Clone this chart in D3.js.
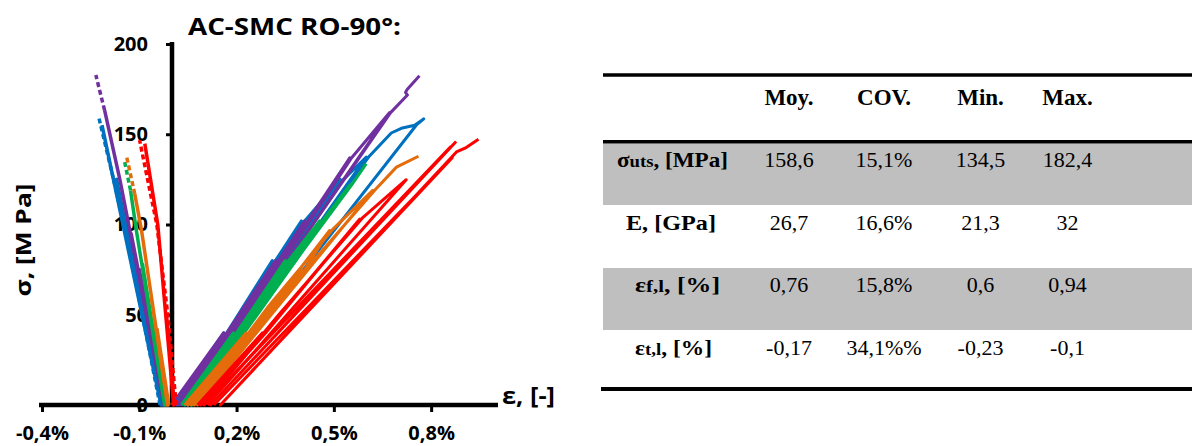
<!DOCTYPE html>
<html>
<head>
<meta charset="utf-8">
<script src="https://cdn.jsdelivr.net/npm/d3@7"></script>
<style>
body { margin: 0; background: #fff; }
svg { display: block; }
.axis text { font-family: "Open Sans", sans-serif; font-weight: 700; font-size: 20px; fill: #000; }
.tbl { font-family: "Liberation Serif", "Times New Roman", serif; font-size: 22px; fill: #000; }
</style>
</head>
<body>
<svg id="chart" width="1192" height="446"></svg>
<script>
////////////// Data (strain in %, stress in MPa)
var xTicks = [-0.4, -0.1, 0.2, 0.5, 0.8];
var yTicks = [0, 50, 100, 150, 200];

// longitudinal curves (loading / unloading cycles)
var blueLong = [[0.01,0],[0.16,40],[0.02,0],[0.17,40],[0.31,80],[0.03,0],[0.18,40],[0.32,80],[0.40,102],[0.04,0],[0.20,45],[0.41,102],[0.52,125],[0.05,0],[0.28,60],[0.53,125],[0.60,137.4],[0.06,0],[0.33,70],[0.61,138],[0.677,150.7],[0.708,153.3],[0.749,155],[0.777,158.5],[0.754,155],[0.08,0]];
var purpleLong = [[0.00,0],[0.16,40],[0.015,0],[0.17,40],[0.32,80],[0.025,0],[0.18,40],[0.33,80],[0.41,102],[0.035,0],[0.22,50],[0.42,102],[0.549,137],[0.045,0],[0.29,65],[0.555,137],[0.672,162],[0.05,0],[0.30,65],[0.675,162],[0.727,171.7],[0.721,173.2],[0.726,174.8],[0.764,182.4]];
var greenLong = [[0.03,0],[0.19,40],[0.04,0],[0.20,40],[0.35,80],[0.05,0],[0.21,40],[0.36,80],[0.456,102],[0.06,0],[0.27,55],[0.465,102],[0.55,122],[0.065,0],[0.30,60],[0.555,122],[0.60,133.7]];
var orangeLong = [[0.04,0],[0.23,40],[0.05,0],[0.24,40],[0.40,75],[0.06,0],[0.25,40],[0.41,75],[0.487,96.7],[0.07,0],[0.30,55],[0.495,97],[0.62,118.9],[0.08,0],[0.35,62],[0.626,119],[0.693,131.8],[0.761,137.8]];
var redLongA = [[0.13,0],[0.865,137],[0.15,0],[0.878,140.2],[0.908,142.6],[0.946,147.2]];
var redLongB = [[0.10,0],[0.86,143],[0.12,0],[0.877,146]];
var redLongC = [[0.08,0],[0.28,40],[0.09,0],[0.29,40],[0.58,103],[0.10,0],[0.33,50],[0.59,104],[0.723,124.8],[0.11,0]];

// transverse curves (measured cycles, then extrapolated part dashed)
var blueTrans = [[-0.025,0],[-0.07,40],[-0.027,0],[-0.105,72],[-0.029,0],[-0.135,96.7],[-0.031,0],[-0.17,125],[-0.033,0],[-0.215,155]];
var blueTransFit = [[-0.036,0],[-0.142,96.7],[-0.224,158.7]];
var purpleTrans = [[-0.018,0],[-0.06,40],[-0.02,0],[-0.1,75],[-0.022,0],[-0.125,94.8],[-0.024,0],[-0.16,125],[-0.207,163.3]];
var purpleTransFit = [[-0.207,163.3],[-0.234,182.8]];
var greenTrans = [[-0.018,0],[-0.06,45],[-0.02,0],[-0.09,78],[-0.022,0],[-0.109,96.7],[-0.127,118.9]];
var greenTransFit = [[-0.127,118.9],[-0.145,134.6]];
var orangeTrans = [[-0.009,0],[-0.045,42],[-0.011,0],[-0.063,59.6],[-0.013,0],[-0.093,96.7],[-0.114,117]];
var orangeTransFit = [[-0.114,117],[-0.14,138.3]];
var redTrans = [[0.008,0],[-0.016,50],[0.006,0],[-0.043,100],[-0.083,144.8]];
var redTransFit = [[0.014,0],[-0.012,50],[-0.046,100],[-0.099,146.7]];

// table
var tableHeader = ["Moy.", "COV.", "Min.", "Max."];
var rowLabels = [["σ", "uts", ", [MPa]"], ["E", "", ", [GPa]"], ["ε", "f,l", ", [%]"], ["ε", "t,l", ", [%]"]];
var rowValues = [
    ["158,6", "15,1%", "134,5", "182,4"],
    ["26,7", "16,6%", "21,3", "32"],
    ["0,76", "15,8%", "0,6", "0,94"],
    ["-0,17", "34,1%%", "-0,23", "-0,1"]
];

////////////// Chart
var colors = { blue: "#0070C0", purple: "#7030A0", green: "#00B050", orange: "#E46C0A", red: "#FF0000" };

var svg = d3.select("#chart");

var x = d3.scaleLinear().domain([-0.4, 1.0]).range([42, 496]);
var y = d3.scaleLinear().domain([0, 200]).range([405, 44]);

var locale = d3.formatLocale({ decimal: ",", thousands: " ", grouping: [3], currency: ["", ""], minus: "-" });
var fmt1 = locale.format(".1f");

var line = d3.line().x(d => x(d[0])).y(d => y(d[1]));

var transSolid = [
    { data: blueTrans, color: colors.blue },
    { data: purpleTrans, color: colors.purple },
    { data: greenTrans, color: colors.green },
    { data: orangeTrans, color: colors.orange },
    { data: redTrans, color: colors.red }
];
var transDashed = [
    { data: blueTransFit, color: colors.blue },
    { data: purpleTransFit, color: colors.purple },
    { data: greenTransFit, color: colors.green },
    { data: orangeTransFit, color: colors.orange },
    { data: redTransFit, color: colors.red }
];
var longSeries = [
    { data: blueLong, color: colors.blue },
    { data: purpleLong, color: colors.purple },
    { data: greenLong, color: colors.green },
    { data: orangeLong, color: colors.orange },
    { data: redLongC, color: colors.red },
    { data: redLongB, color: colors.red },
    { data: redLongA, color: colors.red }
];

// axes (drawn first, curves go over them)
var xAxis = svg.append("g").attr("class", "axis")
    .attr("transform", "translate(0,405)")
    .call(d3.axisBottom(x).tickValues(xTicks).tickSize(7).tickSizeOuter(0).tickPadding(14)
        .tickFormat(d => fmt1(d) + "%"));
xAxis.select(".domain").remove();
xAxis.selectAll(".tick line").attr("stroke-width", 3);
svg.append("line").attr("x1", 39).attr("x2", 498).attr("y1", 405).attr("y2", 405)
    .attr("stroke", "#000").attr("stroke-width", 4.5);

var yAxis = svg.append("g").attr("class", "axis")
    .attr("transform", "translate(172,0)")
    .call(d3.axisLeft(y).tickValues(yTicks).tickSize(6).tickSizeOuter(0).tickPadding(18));
yAxis.select(".domain").remove();
yAxis.selectAll(".tick line").attr("stroke-width", 3);
svg.append("line").attr("x1", 172).attr("x2", 172).attr("y1", 42).attr("y2", 407)
    .attr("stroke", "#000").attr("stroke-width", 4.5);

var plot = svg.append("g");

plot.selectAll(".long").data(longSeries).enter().append("path")
    .attr("class", "long")
    .attr("d", d => line(d.data))
    .attr("fill", "none")
    .attr("stroke", d => d.color)
    .attr("stroke-width", 3)
    .attr("stroke-linejoin", "round");

plot.selectAll(".trans").data(transSolid).enter().append("path")
    .attr("class", "trans")
    .attr("d", d => line(d.data))
    .attr("fill", "none")
    .attr("stroke", d => d.color)
    .attr("stroke-width", 3.5)
    .attr("stroke-linejoin", "round");

plot.selectAll(".fit").data(transDashed).enter().append("path")
    .attr("class", "fit")
    .attr("d", d => line(d.data))
    .attr("fill", "none")
    .attr("stroke", d => d.color)
    .attr("stroke-width", 3.5)
    .attr("stroke-dasharray", "5,3");

// titles
svg.append("text")
    .attr("x", 188).attr("y", 35)
    .attr("font-family", "Open Sans").attr("font-weight", 700).attr("font-size", 24)
    .attr("textLength", 213).attr("lengthAdjust", "spacingAndGlyphs")
    .text("AC-SMC RO-90°:");

svg.append("text")
    .attr("transform", "translate(31,240) rotate(-90)")
    .attr("text-anchor", "middle")
    .attr("font-family", "Open Sans").attr("font-weight", 700).attr("font-size", 21)
    .attr("textLength", 113).attr("lengthAdjust", "spacingAndGlyphs")
    .text("σ, [M Pa]");

svg.append("text")
    .attr("x", 502).attr("y", 404)
    .attr("font-family", "Open Sans").attr("font-weight", 700).attr("font-size", 24)
    .attr("textLength", 53).attr("lengthAdjust", "spacingAndGlyphs")
    .text("ε, [-]");

////////////// Table
var colX = [789, 884, 980.5, 1067.5];
var labelX = [672.5, 671, 677.5, 673.5];
var labelW = [111, 90, 85, 77];
var rowBase = [166.7, 230, 291.7, 355];
var tbl = svg.append("g").attr("class", "tbl");

[[143.4, 205], [268, 330]].forEach(function(r) {
    tbl.append("rect").attr("x", 603).attr("y", r[0]).attr("width", 1192 - 603).attr("height", r[1] - r[0])
        .attr("fill", "#BFBFBF");
});
tbl.append("line").attr("x1", 603).attr("x2", 1192).attr("y1", 75).attr("y2", 75).attr("stroke", "#000").attr("stroke-width", 3.5);
tbl.append("line").attr("x1", 603).attr("x2", 1192).attr("y1", 141.7).attr("y2", 141.7).attr("stroke", "#000").attr("stroke-width", 3.5);
tbl.append("line").attr("x1", 601).attr("x2", 1192).attr("y1", 389).attr("y2", 389).attr("stroke", "#000").attr("stroke-width", 4);

tbl.selectAll(".hdr").data(tableHeader).enter().append("text")
    .attr("class", "hdr")
    .attr("x", (d, i) => colX[i]).attr("y", 105)
    .attr("text-anchor", "middle").attr("font-weight", 700).attr("font-size", 23)
    .text(d => d);

rowValues.forEach(function(row, r) {
    tbl.selectAll(".v" + r).data(row).enter().append("text")
        .attr("class", "v" + r)
        .attr("x", (d, i) => colX[i]).attr("y", rowBase[r])
        .attr("text-anchor", "middle")
        .text(d => d);
    var t = tbl.append("text")
        .attr("x", labelX[r] - labelW[r] / 2).attr("y", rowBase[r])
        .attr("font-weight", 700).attr("font-size", 21)
        .attr("textLength", labelW[r]).attr("lengthAdjust", "spacingAndGlyphs");
    t.append("tspan").text(rowLabels[r][0]);
    t.append("tspan").attr("font-size", 17).text(rowLabels[r][1]);
    t.append("tspan").text(rowLabels[r][2]);
});
</script>
</body>
</html>
